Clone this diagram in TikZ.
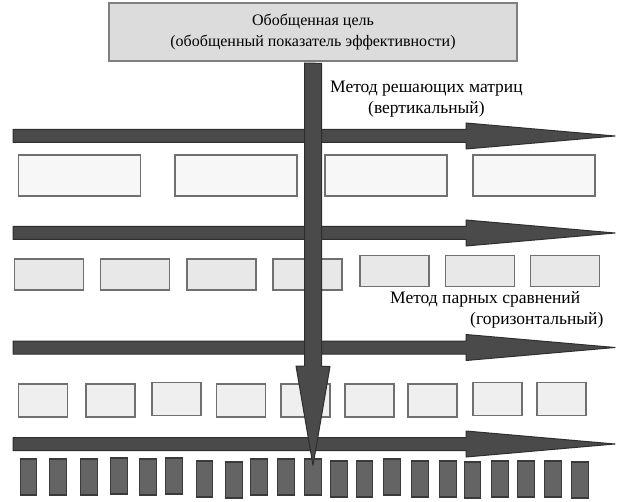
\documentclass[tikz,border=0pt]{standalone}
\usepackage{fontspec}
\setmainfont{Liberation Serif}
\usepackage{tikz}
\usetikzlibrary{calc}
\definecolor{BarFill}{HTML}{4A4A4A}
\definecolor{BarLine}{HTML}{2E2E2E}
\definecolor{GoalFill}{HTML}{DCDCDC}
\definecolor{GoalLine}{HTML}{7F7F7F}
\definecolor{RowLine}{HTML}{707070}
\definecolor{PaleA}{HTML}{F7F7F7}
\definecolor{PaleB}{HTML}{E8E8E8}
\definecolor{PaleC}{HTML}{EFEFEF}
\definecolor{DarkFill}{HTML}{646464}
\definecolor{DarkLine}{HTML}{3A3A3A}
\tikzset{
  goalbox/.style={draw=GoalLine,fill=GoalFill,line width=2pt,minimum width=408pt,minimum height=58pt,align=center,font=\fontsize{16}{21}\selectfont,inner sep=0pt},
  lbl/.style={font=\fontsize{17.5}{21.5}\selectfont,inner sep=0pt},
  bar/.style={draw=BarLine,fill=BarFill,line width=1pt,line join=round},
  cellA/.style={draw=RowLine,fill=PaleA,line width=1.4pt,minimum width=122pt,minimum height=41pt,inner sep=0pt},
  cellB/.style={draw=RowLine,fill=PaleB,line width=1.4pt,minimum width=69pt,minimum height=31pt,inner sep=0pt},
  cellC/.style={draw=RowLine,fill=PaleC,line width=1.4pt,minimum width=49pt,minimum height=33pt,inner sep=0pt},
  cellD/.style={draw=DarkLine,fill=DarkFill,line width=1.2pt,minimum width=16.5pt,minimum height=36pt,inner sep=0pt},
}
\begin{document}
\begin{tikzpicture}[x=1pt,y=-1pt]
  \useasboundingbox (0,0) rectangle (617,502);
  \node[goalbox] (goal) at (313,32) {\raisebox{-7pt}{\shortstack{Обобщенная цель\\[3pt](обобщенный показатель эффективности)}}};
  \node[lbl,align=center,anchor=west] (vlab) at (330,99) {Метод решающих матриц\\(вертикальный)};
  \node[lbl,align=left,anchor=north west] (hlab) at (390,291) {Метод парных сравнений\\\hspace*{80pt}(горизонтальный)};
  % horizontal arrows
  \foreach \y/\n in {136/1,233/2,347.5/3,444/4}{
    \coordinate (h\n s) at (13,\y);
    \coordinate (h\n e) at (615,\y);
    \draw[bar] (h\n s) ++(0,-6.5) -- ++(453,0) -- ++(0,-6.5) -- (h\n e)
      -- ++(-149,13) -- ++(0,-6.5) -- ++(-453,0) -- cycle;
  }
  % rows of elements
  \foreach \x [count=\i] in {79.5,236,386,534}
    \node[cellA] (r1-\i) at (\x,175.5) {};
  \foreach \x/\y [count=\i] in {49/274.5,135/274.5,221.5/274.5,307.5/274.5,394.5/271,480/271,565/271}
    \node[cellB] (r2-\i) at (\x,\y) {};
  \foreach \x/\y [count=\i] in {43/400.5,110.5/400.5,176.5/399,241/400.5,305.5/400.5,369.5/400.5,432.5/400.5,497.5/399,561.5/399}
    \node[cellC] (r3-\i) at (\x,\y) {};
  \foreach \x/\y [count=\i] in {28.5/477,58/477,89/477,119/476,148/477,174/476,204.5/479,234/480,259/477,286/477,313/477,339/479,364.5/479,392/477,420/479,448/479,472.5/480,500/479,526/479,553/479,580/480}
    \node[cellD] (r4-\i) at (\x,\y) {};
  % vertical arrow
  \coordinate (vtip) at ($(r4-11.north)+(0,7)$);
  \draw[bar] (goal.south) ++(-8.5,1) -- ++(0,303) -- ++(-8.5,0) -- (vtip)
    -- ++(17,-99) -- ++(-8.5,0) -- ++(0,-303) -- cycle;
\end{tikzpicture}
\end{document}
